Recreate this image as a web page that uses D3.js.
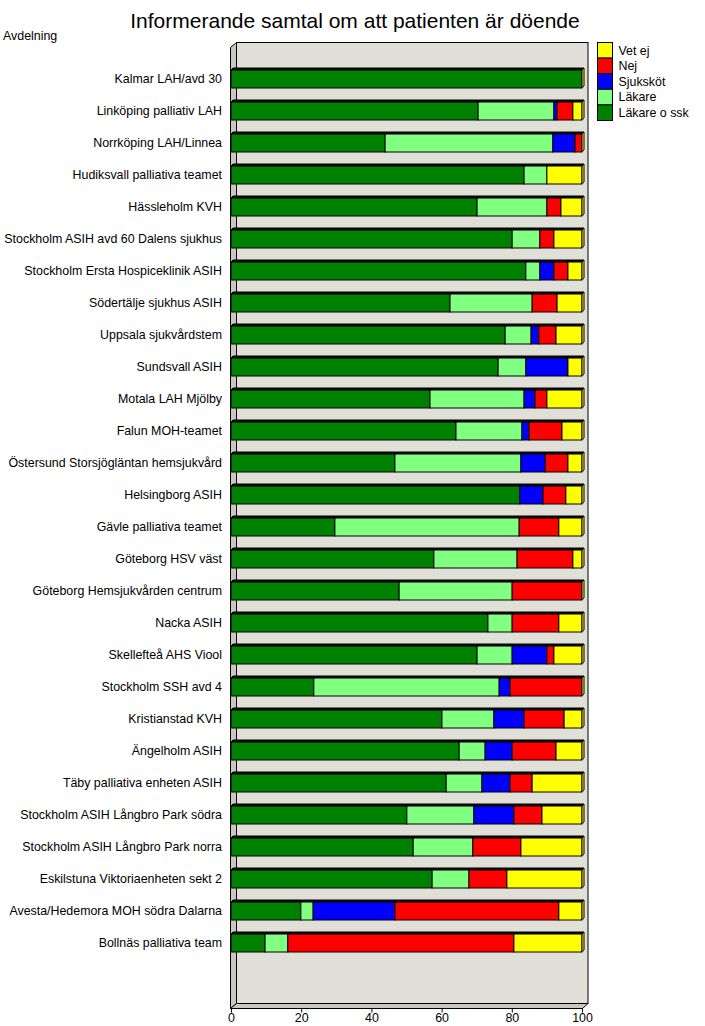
<!DOCTYPE html>
<html>
<head>
<meta charset="utf-8">
<script src="https://d3js.org/d3.v7.min.js"></script>
<style>
	body { margin: 0; background: white; }
	text { font-family: "Liberation Sans", Arial, sans-serif; }
</style>
</head>
<body>
<script>

var categories = ["Kalmar LAH/avd 30", "Linköping palliativ LAH", "Norrköping LAH/Linnea",
	"Hudiksvall palliativa teamet", "Hässleholm KVH", "Stockholm ASIH avd 60 Dalens sjukhus",
	"Stockholm Ersta Hospiceklinik ASIH", "Södertälje sjukhus ASIH", "Uppsala sjukvårdstem",
	"Sundsvall ASIH", "Motala LAH Mjölby", "Falun MOH-teamet", "Östersund Storsjögläntan hemsjukvård",
	"Helsingborg ASIH", "Gävle palliativa teamet", "Göteborg HSV väst", "Göteborg Hemsjukvården centrum",
	"Nacka ASIH", "Skellefteå AHS Viool", "Stockholm SSH avd 4", "Kristianstad KVH", "Ängelholm ASIH",
	"Täby palliativa enheten ASIH", "Stockholm ASIH Långbro Park södra", "Stockholm ASIH Långbro Park norra",
	"Eskilstuna Viktoriaenheten sekt 2", "Avesta/Hedemora MOH södra Dalarna", "Bollnäs palliativa team"]

// percent per category, same order as categories
var lakareOSsk = [100, 70.4, 43.9, 83.5, 70.1, 80.1, 84.0, 62.4, 78.1, 76.1, 56.7, 64.1, 46.7, 82.3,
	29.6, 57.8, 47.9, 73.2, 70.1, 23.6, 60.1, 65.0, 61.3, 50.1, 51.9, 57.3, 19.9, 9.7]
var lakare = [0, 21.6, 47.8, 6.5, 19.9, 7.9, 4.0, 23.4, 7.4, 7.9, 26.8, 18.8, 35.9, 0,
	52.5, 23.7, 32.2, 6.9, 10.0, 52.8, 14.8, 7.4, 10.2, 19.1, 17.0, 10.5, 3.5, 6.5]
var sjukskot = [0, 0.9, 6.3, 0, 0, 0, 4.0, 0, 2.2, 12.0, 3.1, 2.0, 6.9, 6.6,
	0, 0, 0, 0, 9.9, 3.1, 8.6, 7.7, 8.0, 11.4, 0, 0, 23.3, 0]
var nej = [0, 4.5, 2.0, 0, 4.0, 4.0, 4.0, 7.1, 4.9, 0, 3.4, 9.4, 6.5, 6.5,
	11.3, 15.9, 19.9, 13.3, 2.0, 20.5, 11.4, 12.5, 6.3, 8.0, 13.7, 10.8, 46.7, 64.4]
var vetEj = [0, 2.6, 0, 10.0, 6.0, 8.0, 4.0, 7.1, 7.4, 4.0, 10.0, 5.7, 4.0, 4.6,
	6.6, 2.6, 0, 6.6, 8.0, 0, 5.1, 7.4, 14.2, 11.4, 17.4, 21.4, 6.6, 19.4]

var seriesNames = ["Läkare o ssk", "Läkare", "Sjuksköt", "Nej", "Vet ej"]
var seriesColors = ["#008000", "#80ff80", "#0000ff", "#ff0000", "#ffff00"]
var xTicks = [0, 20, 40, 60, 80, 100]

var svgWidth = 705
var svgHeight = 1026
var depth = 2       // bar 3d depth
var wallDepth = 5   // wall 3d depth
var fontSize = "12.4px"

var rows = categories.map(function(c, i){
	return {cat: c, "Läkare o ssk": lakareOSsk[i], "Läkare": lakare[i], "Sjuksköt": sjukskot[i],
		"Nej": nej[i], "Vet ej": vetEj[i]}
})

var stacked = d3.stack().keys(seriesNames)(rows)

var x = d3.scaleLinear().domain([0, 100]).range([231, 582])
var y = d3.scaleBand().domain(categories).range([63, 63 + 28 * 32])
	.paddingInner(0.4375).paddingOuter(0.21875)
var color = d3.scaleOrdinal().domain(seriesNames).range(seriesColors)

var plotTop = 47
var plotBottom = 1008

var svg = d3.select("body").append("svg")
	.attr("width", svgWidth)
	.attr("height", svgHeight)

svg.append("text")
	.attr("x", 355)
	.attr("y", 28)
	.attr("text-anchor", "middle")
	.style("font-size", "21px")
	.text("Informerande samtal om att patienten är döende")

svg.append("text")
	.attr("x", 3)
	.attr("y", 40)
	.style("font-size", fontSize)
	.text("Avdelning")

// walls
var x0 = x(0), x1 = x(100)
svg.append("rect")
	.attr("x", x0 + wallDepth + 0.5)
	.attr("y", plotTop - wallDepth + 0.5)
	.attr("width", x1 - x0 + 0.5)
	.attr("height", plotBottom - plotTop)
	.style("fill", "#e0e0d8")
	.style("stroke", "black")

svg.append("path")
	.attr("d", "M" + (x0 - 0.5) + "," + (plotTop + 0.5) + "L" + (x0 + wallDepth + 0.5) + "," + (plotTop - wallDepth + 0.5) +
		"L" + (x0 + wallDepth + 0.5) + "," + (plotBottom - wallDepth + 0.5) + "L" + (x0 - 0.5) + "," + (plotBottom + 0.5) + "Z")
	.style("fill", "#c8c8c0")
	.style("stroke", "black")

svg.append("path")
	.attr("d", "M" + (x0 - 0.5) + "," + (plotBottom + 0.5) + "L" + (x0 + wallDepth + 0.5) + "," + (plotBottom - wallDepth + 0.5) +
		"L" + (x1 + wallDepth + 1) + "," + (plotBottom - wallDepth + 0.5) + "L" + (x1 + 0.5) + "," + (plotBottom + 0.5) + "Z")
	.style("fill", "#c8c8c0")
	.style("stroke", "black")

// bars
var layers = svg.selectAll("g.layer")
	.data(stacked)
	.enter().append("g")
	.attr("class", "layer")
	.style("fill", function(d){ return color(d.key) })

layers.selectAll("path.top")
	.data(function(d){ return d })
	.enter().append("path")
	.attr("class", "top")
	.attr("d", function(d){
		var a = x(d[0]), b = x(d[1]), t = y(d.data.cat)
		return "M" + a + "," + t + "L" + (a + depth) + "," + (t - depth) + "L" + (b + depth) + "," + (t - depth) + "L" + b + "," + t + "Z"
	})
	.style("fill", "#111")
	.style("stroke", "black")
	.style("stroke-width", 1)

layers.selectAll("rect")
	.data(function(d){ return d })
	.enter().append("rect")
	.attr("x", function(d){ return x(d[0]) })
	.attr("y", function(d){ return y(d.data.cat) })
	.attr("width", function(d){ return x(d[1]) - x(d[0]) })
	.attr("height", y.bandwidth())
	.style("stroke", "black")
	.style("stroke-width", 1)

// right side face of each bar, coloured by the last series
var last = stacked[stacked.length - 1]
svg.selectAll("path.side")
	.data(last)
	.enter().append("path")
	.attr("class", "side")
	.attr("d", function(d){
		var b = x(d[1]), t = y(d.data.cat), h = y.bandwidth()
		return "M" + b + "," + t + "L" + (b + depth) + "," + (t - depth) + "L" + (b + depth) + "," + (t + h - depth) + "L" + b + "," + (t + h) + "Z"
	})
	.style("fill", color(last.key))
	.style("stroke", "black")
	.style("stroke-width", 1)

// category labels
svg.selectAll("text.cat")
	.data(categories)
	.enter().append("text")
	.attr("class", "cat")
	.attr("x", 222)
	.attr("y", function(d){ return y(d) + y.bandwidth() / 2 + 4 })
	.attr("text-anchor", "end")
	.style("font-size", fontSize)
	.text(function(d){ return d })

// x axis
var xAxis = svg.append("g")
	.attr("transform", "translate(0," + (plotBottom + 0.5) + ")")
	.call(d3.axisBottom(x).tickValues(xTicks).tickSize(4).tickSizeOuter(0))
xAxis.select(".domain").remove()
xAxis.selectAll("text")
	.style("font-family", "'Liberation Sans', Arial, sans-serif")
	.style("font-size", fontSize)
	.attr("dy", "0.5em")

// legend
var legendItems = seriesNames.slice().reverse()
var legend = svg.selectAll("g.legend")
	.data(legendItems)
	.enter().append("g")
	.attr("class", "legend")
	.attr("transform", function(d, i){ return "translate(597.5," + (42.5 + i * 15.6) + ")" })

legend.append("rect")
	.attr("width", 15)
	.attr("height", 15.6)
	.style("fill", function(d){ return color(d) })
	.style("stroke", "black")

legend.append("text")
	.attr("x", 21)
	.attr("y", 12)
	.style("font-size", fontSize)
	.text(function(d){ return d })

</script>
</body>
</html>
